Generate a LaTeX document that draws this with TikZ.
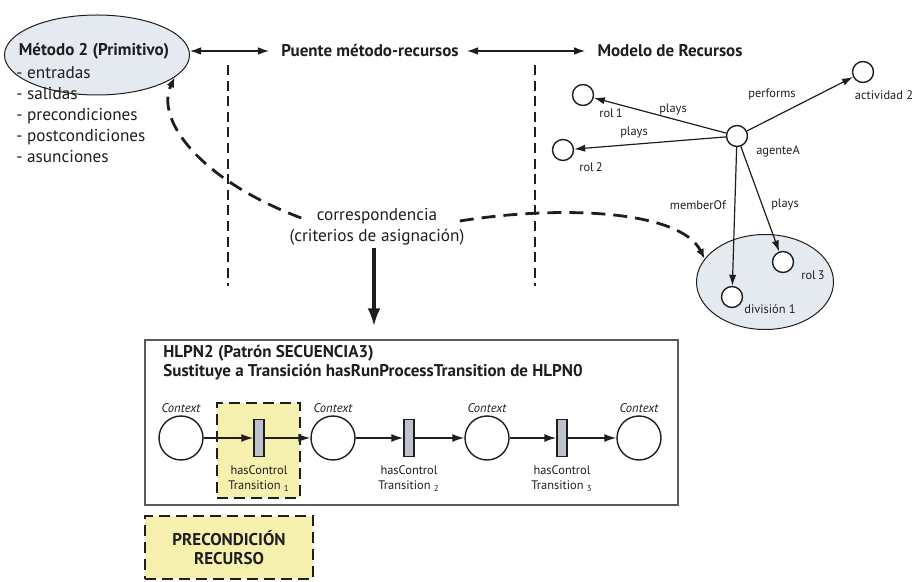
\documentclass[tikz,border=0pt]{standalone}
\usepackage{fontspec}
\setmainfont{PT Sans}
\usetikzlibrary{arrows.meta,positioning,calc,shapes.geometric}
\definecolor{Ink}{HTML}{1E1E1E}
\definecolor{Mist}{HTML}{E4EAF0}
\definecolor{Straw}{HTML}{F6F0AE}
\definecolor{Slate}{HTML}{BEC2CC}
\definecolor{Frame}{HTML}{5A5A5A}
\tikzset{
  head/.style={inner sep=1pt,text=Ink,font=\fontsize{8.5}{9.5}\selectfont\bfseries},
  body/.style={inner sep=1pt,text=Ink,font=\fontsize{8.6}{10.5}\selectfont},
  tag/.style={inner sep=1pt,text=Ink,font=\fontsize{6.2}{7.5}\selectfont},
  ctx/.style={inner sep=1pt,text=Ink,font=\fontsize{6.3}{7.5}\selectfont\itshape},
  blob/.style={ellipse,draw=Ink,fill=Mist,line width=.5pt,inner sep=0pt},
  res/.style={circle,draw=Ink,fill=white,line width=.7pt,minimum size=10.5pt,inner sep=0pt},
  place/.style={circle,draw=Ink,fill=white,line width=.7pt,minimum size=22pt,inner sep=0pt},
  trans/.style={rectangle,draw=Ink,fill=Slate,line width=.7pt,minimum width=5pt,
    minimum height=18.5pt,inner sep=0pt},
  frame/.style={rectangle,draw=Frame,line width=.7pt,inner sep=0pt},
  hint/.style={rectangle,draw=Ink,fill=Straw,line width=1.4pt,dash pattern=on 5.5pt off 3pt,inner sep=0pt},
  arc/.style={-{Latex[length=6pt,width=4pt]},draw=Ink,line width=.7pt},
  rel/.style={-{Latex[length=5.5pt,width=3.6pt]},draw=Ink,line width=.6pt},
  both/.style={{Latex[length=5.5pt,width=3.8pt]}-{Latex[length=5.5pt,width=3.8pt]},draw=Ink,line width=.6pt},
  corr/.style={-{Latex[length=5pt,width=4pt]},draw=Ink,line width=1.4pt,dash pattern=on 7pt off 4pt},
  guide/.style={draw=Ink,line width=1.3pt,dash pattern=on 5pt off 2.8pt},
  big/.style={-{Latex[length=9pt,width=6.5pt]},draw=Ink,line width=1.7pt}
}
\begin{document}
\begin{tikzpicture}[x=.5pt,y=-.5pt]
\useasboundingbox (0,0) rectangle (916,582);

% metodo primitivo
\node[blob,minimum width=92.5pt,minimum height=40pt] (metodo) at (97,55) {};
\node[head] (metodoT) at (94,51) {Método 2 (Primitivo)};
\node[body,align=left,anchor=west] (lista) at (14,115)
  {- entradas\\- salidas\\- precondiciones\\- postcondiciones\\- asunciones};

% cabeceras
\node[head] (puente) at (370,51) {Puente método-recursos};
\node[head] (modelo) at (670,51) {Modelo de Recursos};
\draw[both,shorten >=5pt] (metodo.east |- puente.west) -- (puente.west);
\draw[both,shorten >=5pt,shorten <=3pt] (puente.east) -- (modelo.west);
\draw[guide] (228,65) -- (228,286);
\draw[guide] (535,65) -- (535,286);

% modelo de recursos
\node[blob,minimum width=68.5pt,minimum height=47.5pt] (grupo) at (765,282) {};
\node[res] (agente) at (737,136) {};
\node[res] (rol1) at (583,95) {};
\node[res] (rol2) at (563,150) {};
\node[res] (actividad) at (863,72) {};
\node[res] (rol3) at (783,262) {};
\node[res] (division) at (732,297) {};
\draw[rel] (agente) -- (rol1);
\draw[rel] (agente) -- (rol2);
\draw[rel] (agente) -- (actividad);
\draw[rel] (agente) -- (division);
\draw[rel] (agente) -- (rol3);
\node[tag] at (611,113) {rol\,1};
\node[tag] at (673,109) {plays};
\node[tag] at (634,132) {plays};
\node[tag] at (591,167) {rol\,2};
\node[tag] at (772,94) {performs};
\node[tag] at (884,95) {actividad 2};
\node[tag] at (778,151) {agenteA};
\node[tag] at (698,205) {memberOf};
\node[tag] at (785,204) {plays};
\node[tag] at (813,275) {rol\,3};
\node[tag] at (770,309) {división 1};

% HLPN2
\node[frame,minimum width=266.5pt,minimum height=82.5pt] (hlpn) at (411.5,422.5) {};
\node[head,align=left,anchor=north west] (titulo) at (161,343)
  {HLPN2 (Patrón SECUENCIA3)\\Sustituye a Transición hasRunProcessTransition de HLPN0};
\node[hint,minimum width=41.5pt,minimum height=47.5pt] (foco) at (258.5,450.5) {};
\node[place] (p1) at (181,438) {};
\node[trans] (t1) at (259,438) {};
\node[place] (p2) at (333,438) {};
\node[trans] (t2) at (409,438) {};
\node[place] (p3) at (487,438) {};
\node[trans] (t3) at (562,438) {};
\node[place] (p4) at (639,438) {};
\foreach \a/\b in {p1/t1,t1/p2,p2/t2,t2/p3,p3/t3,t3/p4}
  \draw[arc] (\a) -- (\b);
\foreach \p in {p1,p2,p3,p4}
  \node[ctx,above=0pt of \p] {Context};
\foreach \t/\n in {t1/1,t2/2,t3/3}
  \node[tag,align=center,below=3pt of \t] {hasControl\\Transition~\textsubscript{\n}};

% correspondencia
\node[body,align=center] (corresp) at (377,227) {correspondencia\\(criterios de asignación)};
\draw[corr] ($(corresp.west)+(14,-9)$) .. controls (200,180) and (155,120) .. (metodo.-16);
\draw[corr] ($(corresp.east)+(-7,-6)$) .. controls (560,205) and (680,210) .. (grupo.159);
\draw[big,shorten >=6.5pt] ([xshift=-1.5pt]corresp.south) -- ([xshift=-1.5pt]corresp.south |- hlpn.north);

\node[hint,minimum width=84pt,minimum height=31.5pt,align=center,head] (precond) at (229,547.5)
  {PRECONDICIÓN\\RECURSO};
\end{tikzpicture}
\end{document}
